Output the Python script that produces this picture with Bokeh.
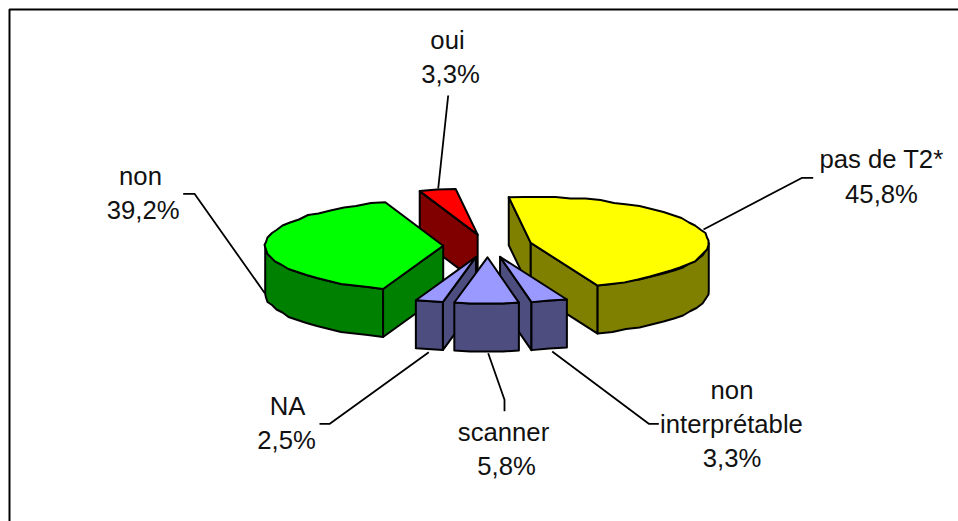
import math
from bokeh.core.properties import value
from bokeh.embed import file_html
from bokeh.models import ColumnDataSource, Range1d
from bokeh.plotting import figure
from bokeh.resources import INLINE

# ---- data ----
categories = ["pas de T2*", "non interprétable", "scanner", "NA", "non", "oui"]
shares = [45.8, 3.3, 5.8, 2.5, 39.2, 3.3]
top_colors = ["#FFFF00", "#9999FF", "#9999FF", "#9999FF", "#00FF00", "#FF0000"]
wall_colors = ["#808000", "#4D4D80", "#4D4D80", "#4D4D80", "#008000", "#800000"]
label_lines = [["pas de T2*"], ["non", "interprétable"], ["scanner"], ["NA"], ["non"], ["oui"]]

# ---- layout of the projected 3-D pie ----
W, H = 958, 521
CX, CY = 487.2, 245.3
RX, RY = 178.0, 46.0
DEPTH = 48.0
EXPLODE = 0.25
START = -7.1          # clockwise from 12 o'clock
STEP = 5.0
GRID = 1.5
TEXT_DY = -9.5
draw_order = [5, 4, 0, 3, 1, 2]

label_xy = {
    0: [(881, 168), (881, 203)],
    1: [(731.5, 399), (731, 433), (731.5, 467)],
    2: [(503, 441), (506, 475)],
    3: [(287, 415), (286, 449)],
    4: [(140, 185), (142.7, 219)],
    5: [(447, 49), (450, 83)],
}
leaders = {
    0: [(812.7, 177.3), (801.7, 177.3), (703, 229)],
    1: [(658.3, 423.3), (648.3, 423.3), (551.7, 351)],
    2: [(504, 410.7), (504, 399.3), (487.7, 352.7)],
    3: [(319, 423.3), (329.3, 423.3), (428.3, 351.7)],
    4: [(182.7, 193.3), (194, 193.3), (264.3, 292.7)],
    5: [(447.7, 95), (437.7, 188)],
}

# ---- geometry from the values ----
total = sum(shares)
spans, a = [], START
for s in shares:
    d = 360.0 * s / total
    spans.append((a, a + d))
    a += d


def rim(apex, deg):
    t = math.radians(deg)
    return (round((apex[0] + RX * math.sin(t)) / GRID) * GRID,
            round((apex[1] - RY * math.cos(t)) / GRID) * GRID)


def arc(apex, a0, a1):
    n = max(1, int(abs(a1 - a0) / STEP))
    pts = [rim(apex, a0 + (a1 - a0) * i / n) for i in range(n + 1)]
    ex0, ex1 = math.radians(a0), math.radians(a1)
    pts[0] = (apex[0] + RX * math.sin(ex0), apex[1] - RY * math.cos(ex0))
    pts[-1] = (apex[0] + RX * math.sin(ex1), apex[1] - RY * math.cos(ex1))
    return pts


def drop(pts):
    return [(x, y + DEPTH) for x, y in pts]


xs, ys, fills = [], [], []


def add(pts, color):
    xs.append([q[0] for q in pts])
    ys.append([q[1] for q in pts])
    fills.append(color)


for i in draw_order:
    a0, a1 = spans[i]
    mid = math.radians((a0 + a1) / 2)
    apex = (CX + EXPLODE * RX * math.sin(mid), CY - EXPLODE * RY * math.cos(mid))
    edge = arc(apex, a0, a1)
    # radial walls facing the viewer
    if math.sin(math.radians(a0)) < 0:
        seg = [apex, edge[0]]
        add(seg + drop(seg)[::-1], wall_colors[i])
    if math.sin(math.radians(a1)) > 0:
        seg = [apex, edge[-1]]
        add(seg + drop(seg)[::-1], wall_colors[i])
    # front part of the rim wall
    f0, f1 = max(a0, 90.0), min(a1, 270.0)
    if f1 > f0:
        seg = arc(apex, f0, f1)
        add(seg + drop(seg)[::-1], wall_colors[i])
    # top face
    add([apex] + edge, top_colors[i])

p = figure(width=W, height=H, output_backend="svg", toolbar_location=None,
           x_range=Range1d(0, W), y_range=Range1d(H, 0),
           min_border=0, outline_line_color=None, background_fill_color="white",
           border_fill_color="white")
p.xaxis.visible = False
p.yaxis.visible = False
p.grid.visible = False

# chart-area frame (only its top and left sides fall inside the page)
p.line([9, 9, W], [H, 9, 9], line_color="black", line_width=2)

# leader lines
p.multi_line([[q[0] for q in leaders[i]] for i in leaders],
             [[q[1] for q in leaders[i]] for i in leaders],
             line_color="black", line_width=1.8)

# pie faces
p.patches("x", "y", source=ColumnDataSource(dict(x=xs, y=ys, c=fills)),
          fill_color="c", line_color="black", line_width=2, line_join="round")

# labels
tx, ty, tt = [], [], []
for i, lines in enumerate(label_lines):
    texts = lines + [f"{shares[i]:.1f}%".replace(".", ",")]
    for t, (x, y) in zip(texts, label_xy[i]):
        tx.append(x)
        ty.append(y + TEXT_DY)
        tt.append(t)
p.text(tx, ty, text=tt, text_font=value("Liberation Sans"), text_font_size="25.7px",
       text_align="center", text_baseline="alphabetic", text_color="#111111")

open("out.html", "w").write(file_html(p, INLINE))
